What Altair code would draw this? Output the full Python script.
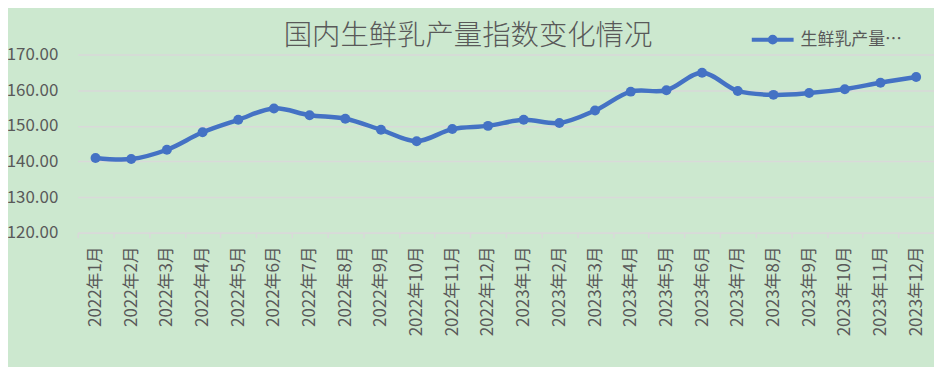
import altair as alt
import pandas as pd

months = ["2022年1月", "2022年2月", "2022年3月", "2022年4月", "2022年5月", "2022年6月",
          "2022年7月", "2022年8月", "2022年9月", "2022年10月", "2022年11月", "2022年12月",
          "2023年1月", "2023年2月", "2023年3月", "2023年4月", "2023年5月", "2023年6月",
          "2023年7月", "2023年8月", "2023年9月", "2023年10月", "2023年11月", "2023年12月"]
values = [141.0, 140.7, 143.3, 148.2, 151.7, 154.9, 153.0, 152.0, 148.9, 145.7, 149.1, 150.0,
          151.7, 150.8, 154.3, 159.6, 160.0, 164.9, 159.8, 158.7, 159.2, 160.3, 162.1, 163.7]
series_name = "生鲜乳产量指数"
chart_title = "国内生鲜乳产量指数变化情况"
y_ticks = [120, 130, 140, 150, 160, 170]

FONT = "Noto Sans CJK SC"
GRAY = "#595959"
GRID = "#d9d9d9"
BLUE = "#4472c4"

df = pd.DataFrame({"month": months, "value": values, "series": series_name})

x = alt.X("month:N", sort=months, bandPosition=0.5,
          scale=alt.Scale(type="band", paddingInner=0, paddingOuter=0),
          axis=alt.Axis(title=None, labelAngle=-90, labelFontSize=17, labelColor=GRAY,
                        labelFont=FONT, labelPadding=8, domainColor=GRID, domainWidth=1.5,
                        tickColor=GRID, tickWidth=1.5, tickSize=5, tickBand="extent",
                        grid=False, labelOverlap=False))
y = alt.Y("value:Q", scale=alt.Scale(domain=[120, 170], nice=False, zero=False),
          axis=alt.Axis(title=None, values=y_ticks, format=".2f", domain=False, ticks=False,
                        labelFontSize=17, labelColor=GRAY, labelFont=FONT, labelPadding=20,
                        gridColor=GRID, gridWidth=1.5))

legend = alt.Legend(title=None, orient="none", legendX=675, legendY=-38, padding=0,
                    symbolType="M-1,0H1M0.14,0A0.14,0.14,0,1,1,-0.14,0A0.14,0.14,0,1,1,0.14,0Z",
                    symbolSize=1764, symbolStrokeWidth=4, symbolFillColor=BLUE,
                    symbolStrokeColor=BLUE, symbolOpacity=1, labelFontSize=17,
                    labelColor=GRAY, labelFont=FONT, labelLimit=116, labelOffset=5)

color = alt.Color("series:N", scale=alt.Scale(range=[BLUE]), legend=legend)

line = alt.Chart(df).mark_line(interpolate="catmull-rom", strokeWidth=4.5).encode(
    x=x, y=y, color=color)
pts = alt.Chart(df).mark_circle(size=100, opacity=1).encode(x=x, y=y, color=color)

chart = (line + pts).properties(
    width=860, height=179,
    autosize=alt.AutoSizeParams(type="none"),
    padding={"left": 70, "top": 46, "right": 0, "bottom": 134},
    background="#cce8cf",
    title=alt.TitleParams(chart_title, fontSize=28.5, fontWeight=300, color=GRAY,
                          font=FONT, anchor="middle", dx=-38, dy=38, offset=4),
).configure_view(stroke=None)

chart.save("out.html", embed_options={"renderer": "svg", "actions": False})
